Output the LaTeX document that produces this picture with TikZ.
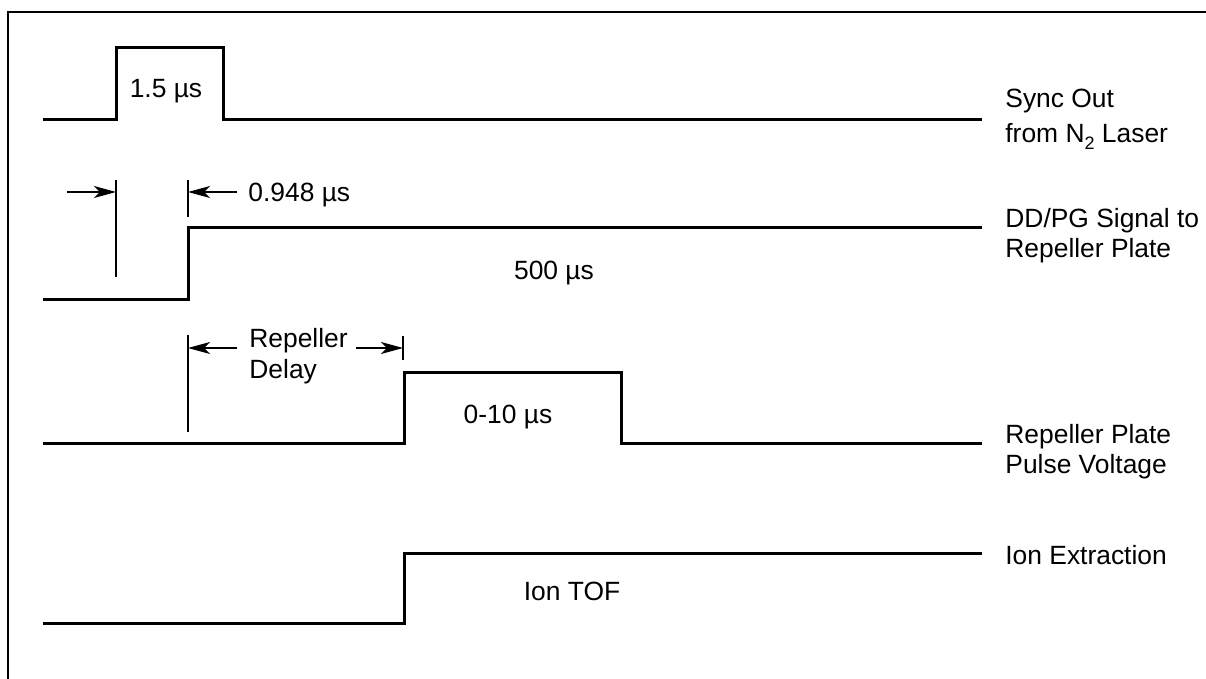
\documentclass[tikz,border=0pt]{standalone}
\usepackage{fontspec}
\setmainfont{Liberation Sans}
\usetikzlibrary{arrows.meta}
\tikzset{
  sig/.style={line width=1.5pt, line join=miter},
  tickln/.style={line width=0.65pt},
  dimarr/.style={-{Stealth[length=11pt, width=6pt, inset=3pt]}, line width=0.65pt},
  lbl/.style={font=\fontsize{13.2}{15}\selectfont, inner sep=0pt},
  sidelbl/.style={lbl, align=left, anchor=north west},
}
\newcommand{\subtwo}{\raisebox{-3.5pt}{\fontsize{9}{9}\selectfont 2}}

\begin{document}
\begin{tikzpicture}[x=0.5pt, y=-0.5pt]
  \useasboundingbox (0,0) rectangle (1206,679);
  \draw[line width=0.75pt] (8,679) -- (8,12) -- (1206,12);
  % waveforms
  \draw[sig] (43,120) -- (116,120) -- (116,48) -- (223,48) -- (223,120) -- (982,120);
  \draw[sig] (43,300) -- (188,300) -- (188,228) -- (982,228);
  \draw[sig] (43,444) -- (404,444) -- (404,373) -- (621,373) -- (621,444) -- (982,444);
  \draw[sig] (43,623) -- (404,623) -- (404,553) -- (982,553);
  % pulse labels
  \node[lbl, anchor=base] (wSync) at (166,98) {1.5 µs};
  \node[lbl, anchor=base] (wGate) at (554,280) {500 µs};
  \node[lbl, anchor=base] (wRep) at (508,423) {0-10 µs};
  \node[lbl, anchor=base] (wTof) at (572,600) {Ion TOF};
  % 0.948 us offset
  \draw[tickln] (116,180) -- (116,277);
  \draw[tickln] (188,180) -- (188,217);
  \coordinate (offA) at (116,192);
  \coordinate (offB) at (188,192);
  \coordinate (offL) at (67,192);
  \coordinate (offR) at (237,192);
  \draw[dimarr] (offL) -- (offA);
  \draw[dimarr] (offR) -- (offB);
  \node[lbl, anchor=base west] (dOff) at (248,202) {0.948 µs};
  % repeller delay
  \draw[tickln] (188,335) -- (188,432);
  \draw[tickln] (403,336) -- (403,360);
  \coordinate (delA) at (188,348);
  \coordinate (delB) at (403,348);
  \coordinate (delL) at (237,348);
  \coordinate (delR) at (356,348);
  \draw[dimarr] (delL) -- (delA);
  \draw[dimarr] (delR) -- (delB);
  \node[sidelbl] (dDel) at (249,328) {Repeller\\[0.5pt]Delay};
  % channel names
  \node[sidelbl] (nSync) at (1005,89) {Sync Out\\[2.5pt]from N\subtwo{} Laser};
  \node[sidelbl] (nGate) at (1005,208) {DD/PG Signal to\\Repeller Plate};
  \node[sidelbl] (nRep) at (1005,424) {Repeller Plate\\Pulse Voltage};
  \node[sidelbl] (nIon) at (1005,545) {Ion Extraction};
\end{tikzpicture}
\end{document}
